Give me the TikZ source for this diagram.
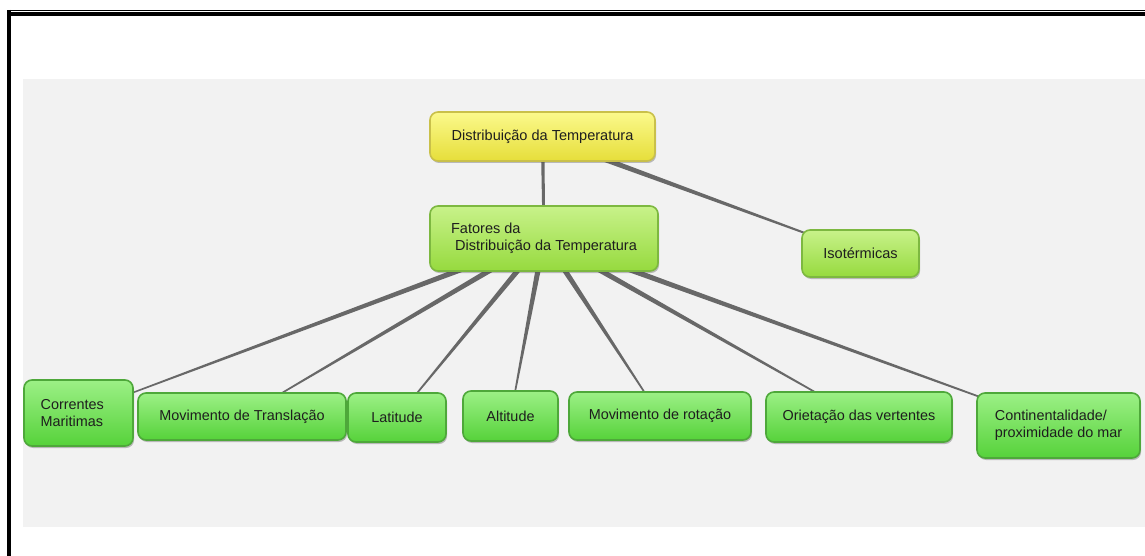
\documentclass[tikz,border=0pt]{standalone}
\usepackage{fontspec}
\setmainfont{Liberation Sans}
\usetikzlibrary{calc,shadings,shadows}
\definecolor{bgcol}{HTML}{F2F2F2}
\definecolor{edgecol}{HTML}{686868}
\definecolor{txtcol}{HTML}{1E1E1E}
\definecolor{ytop}{HTML}{FBF98C}
\definecolor{ybot}{HTML}{E6DE3A}
\definecolor{ydraw}{HTML}{C9C04A}
\definecolor{ltop}{HTML}{C8F28A}
\definecolor{lbot}{HTML}{96DA3E}
\definecolor{ldraw}{HTML}{7DB840}
\definecolor{gtop}{HTML}{9CF086}
\definecolor{gbot}{HTML}{56D23A}
\definecolor{gdraw}{HTML}{4EA83A}
\newcommand\taperedge[4]{\fill[edgecol] ($(#1)!#3!90:(#2)$) -- ($(#2)!#4!-90:(#1)$) -- ($(#2)!#4!90:(#1)$) -- ($(#1)!#3!-90:(#2)$) -- cycle;}
\tikzset{
  boxbase/.style={rounded corners=6pt, line width=1.2pt, text=txtcol, inner sep=2pt,
    drop shadow={shadow xshift=0.8pt, shadow yshift=-1.5pt, opacity=0.35, fill=black!70}},
  ybox/.style={boxbase, draw=ydraw, top color=ytop, bottom color=ybot, font=\fontsize{10.9}{13}\selectfont},
  lbox/.style={boxbase, draw=ldraw, top color=ltop, bottom color=lbot, font=\fontsize{10.9}{13}\selectfont},
  gbox/.style={boxbase, draw=gdraw, top color=gtop, bottom color=gbot, font=\fontsize{10.8}{13}\selectfont},
}
\begin{document}
\begin{tikzpicture}[x=0.75pt,y=-0.75pt]
\useasboundingbox (0,0) rectangle (1145,556);
% frame and background
\fill[bgcol] (23,79) rectangle (1145,527);
\draw[line width=1.1pt] (7,10.5) -- (1145,10.5);
\draw[line width=2.4pt] (9,14) -- (1145,14);
\draw[line width=3pt] (9,10) -- (9,556);
% node positions
\coordinate (ptop) at (542.5,136.5);
\coordinate (pfat) at (544,238.5);
\coordinate (piso) at (860.5,253.5);
\coordinate (pcor) at (78.5,413);
\coordinate (ptra) at (242,416.5);
\coordinate (plat) at (397,417.5);
\coordinate (palt) at (510.5,416);
\coordinate (prot) at (660,416);
\coordinate (pori) at (859,417);
\coordinate (pcon) at (1058.5,425.5);
% edges
\taperedge{ptop}{pfat}{1.3pt}{1.0pt}
\taperedge{ptop}{piso}{2.3pt}{0.4pt}
\taperedge{pfat}{pcor}{2.3pt}{0.35pt}
\taperedge{pfat}{ptra}{2.3pt}{0.35pt}
\taperedge{pfat}{plat}{2.3pt}{0.35pt}
\taperedge{pfat}{palt}{2.3pt}{0.35pt}
\taperedge{pfat}{prot}{2.3pt}{0.35pt}
\taperedge{pfat}{pori}{2.3pt}{0.35pt}
\taperedge{pfat}{pcon}{2.3pt}{0.35pt}
% nodes
\node[ybox, minimum width=168.75pt, minimum height=36.75pt] (top) at (ptop) {Distribuição da Temperatura};
\node[lbox, minimum width=171pt, minimum height=48.75pt, align=left] (fat) at (pfat) {Fatores da\\\ Distribuição da Temperatura};
\node[lbox, minimum width=87.75pt, minimum height=35.25pt] (iso) at (piso) {Isotérmicas};
\node[gbox, minimum width=81.75pt, minimum height=49.5pt, align=left] (cor) at (pcor) {Correntes\\Maritimas\hspace*{10pt}};
\node[gbox, minimum width=156pt, minimum height=35.25pt] (tra) at (ptra) {Movimento de Translação};
\node[gbox, minimum width=73.5pt, minimum height=36.75pt] (lat) at (plat) {Latitude};
\node[gbox, minimum width=71.25pt, minimum height=37.5pt] (alt) at (palt) {Altitude};
\node[gbox, minimum width=136.5pt, minimum height=36pt] (rot) at (prot) {Movimento de rotação};
\node[gbox, minimum width=139.5pt, minimum height=37.5pt] (ori) at (pori) {Orietação das vertentes};
\node[gbox, minimum width=122.25pt, minimum height=48.75pt, align=left] (con) at (pcon) {Continentalidade/\\proximidade do mar};
\end{tikzpicture}
\end{document}
